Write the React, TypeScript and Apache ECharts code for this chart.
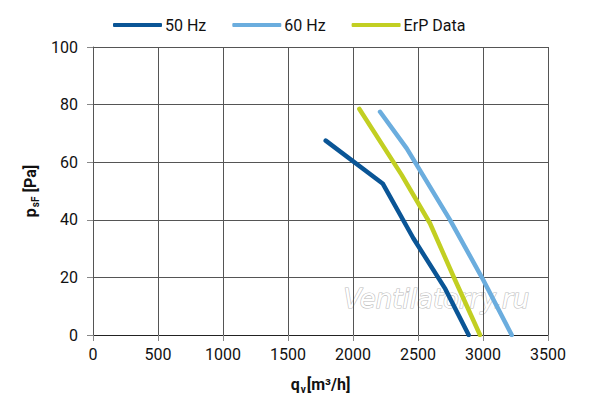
import React, { useEffect, useRef } from "react";
import * as echarts from "echarts";

const seriesNames = ["50 Hz", "60 Hz", "ErP Data"];
const colors = ["#0a5596", "#6badde", "#c2cf22"];
const flow50: number[] = [1790, 2230, 2464, 2710, 2890];
const press50: number[] = [67.5, 52.5, 33.6, 16, 0];
const flow60: number[] = [2208, 2413, 2746, 3002, 3221];
const press60: number[] = [77.5, 64.8, 40, 19.1, 0];
const flowErp: number[] = [2049, 2374, 2592, 2785, 2977];
const pressErp: number[] = [78.5, 55.6, 38.8, 19.1, 0];

const FONT = "Roboto, 'Liberation Sans', sans-serif";

const zip = (xs: number[], ys: number[]) => xs.map((x, i) => [x, ys[i]]);

export default function App() {
  const ref = useRef<HTMLDivElement>(null);
  useEffect(() => {
    if (!ref.current) return;
    const chart = echarts.init(ref.current, undefined, { renderer: "svg" });
    const datas = [zip(flow50, press50), zip(flow60, press60), zip(flowErp, pressErp)];
    chart.setOption({
      animation: false,
      backgroundColor: "#ffffff",
      textStyle: { fontFamily: FONT },
      legend: {
        top: 12,
        left: 108,
        itemWidth: 49,
        itemHeight: 4,
        itemGap: 26,
        icon: "roundRect",
        textStyle: { fontSize: 16, color: "#111", fontFamily: FONT, padding: [0, 0, 0, -2] },
        data: seriesNames,
      },
      grid: { left: 93, right: 52, top: 47, bottom: 68 },
      xAxis: {
        type: "value",
        min: 0,
        max: 3500,
        interval: 500,
        axisLine: { show: true, lineStyle: { color: "#222", width: 1 } },
        axisTick: { show: true, length: 6, lineStyle: { color: "#888" } },
        splitLine: { show: true, lineStyle: { color: "#555", width: 1 } },
        axisLabel: { fontSize: 16, color: "#111", margin: 11, fontFamily: FONT, formatter: (v: number) => String(v) },
        name: "{a|q}{s|v}{a|[m³/h]}",
        nameLocation: "middle",
        nameGap: 40,
        nameTextStyle: {
          rich: {
            a: { fontSize: 16, fontWeight: "bold", color: "#111", fontFamily: FONT },
            s: { fontSize: 10, fontWeight: "bold", color: "#111", fontFamily: FONT, verticalAlign: "bottom", padding: [9, 1, 0, 1] },
          },
        },
      },
      yAxis: {
        type: "value",
        min: 0,
        max: 100,
        interval: 20,
        axisLine: { show: true, lineStyle: { color: "#555", width: 1 } },
        axisTick: { show: true, length: 6, lineStyle: { color: "#888" } },
        splitLine: { show: true, lineStyle: { color: "#555", width: 1 } },
        axisLabel: { fontSize: 16, color: "#111", margin: 15, fontFamily: FONT, formatter: (v: number) => String(v) },
        name: "{a|p}{s|sF}{a| [Pa]}",
        nameLocation: "middle",
        nameGap: 50,
        nameRotate: 90,
        nameTextStyle: {
          rich: {
            a: { fontSize: 16, fontWeight: "bold", color: "#111", fontFamily: FONT },
            s: { fontSize: 10, fontWeight: "bold", color: "#111", fontFamily: FONT, verticalAlign: "bottom", padding: [9, 0, 0, 1] },
          },
        },
      },
      graphic: [
        {
          type: "text",
          left: 343,
          top: 285,
          z: 0,
          silent: true,
          style: {
            text: "Ventilatorry.ru",
            font: "italic 26px 'DejaVu Sans', sans-serif",
            fill: "#ffffff",
            stroke: "#bdbdbd",
            lineWidth: 1.2,
          },
        },
      ],
      series: seriesNames.map((name, i) => ({
        name,
        type: "line",
        data: datas[i],
        showSymbol: false,
        symbol: "none",
        z: 5,
        lineStyle: { color: colors[i], width: 4.5, cap: "round", join: "round" },
        itemStyle: { color: colors[i] },
      })),
    });
    return () => chart.dispose();
  }, []);
  return <div ref={ref} style={{ width: 600, height: 403, position: "absolute", left: 0, top: 0 }} />;
}
